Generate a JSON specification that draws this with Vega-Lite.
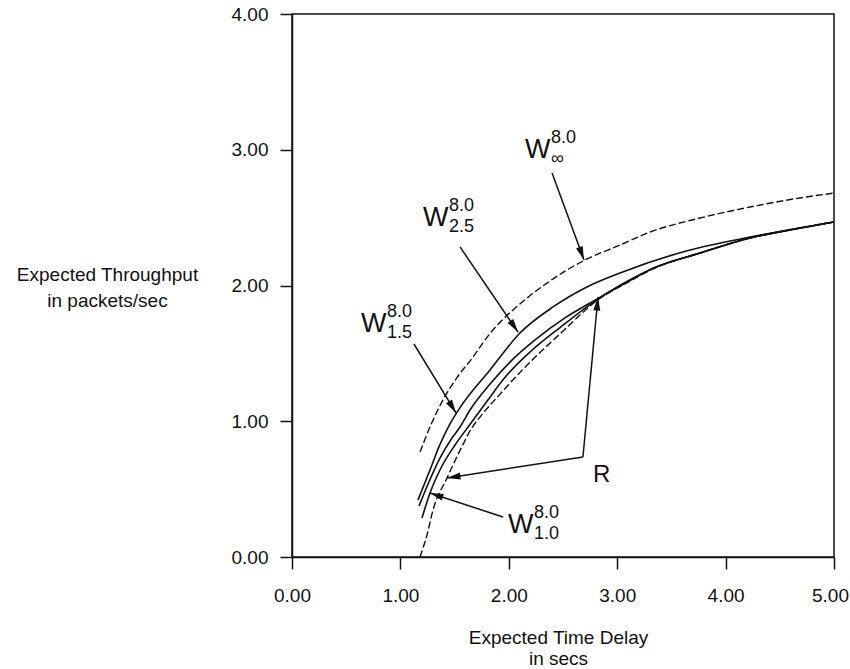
{
  "$schema": "https://vega.github.io/schema/vega-lite/v6.json",
  "width": 542,
  "height": 543,
  "autosize": {"type": "none"},
  "padding": {"left": 292, "top": 14, "right": 16, "bottom": 112},
  "background": "white",
  "config": {
    "view": {"stroke": "#111", "strokeWidth": 1.5},
    "font": "Liberation Sans"
  },
  "datasets": {
    "curves": [
      {"series": "Winf", "x": 1.181, "y": 0.773},
      {"series": "Winf", "x": 1.273, "y": 0.958},
      {"series": "Winf", "x": 1.393, "y": 1.157},
      {"series": "Winf", "x": 1.52, "y": 1.32},
      {"series": "Winf", "x": 1.67, "y": 1.473},
      {"series": "Winf", "x": 1.8, "y": 1.62},
      {"series": "Winf", "x": 1.919, "y": 1.73},
      {"series": "Winf", "x": 2.039, "y": 1.82},
      {"series": "Winf", "x": 2.352, "y": 2.018},
      {"series": "Winf", "x": 2.703, "y": 2.188},
      {"series": "Winf", "x": 3.026, "y": 2.298},
      {"series": "Winf", "x": 3.303, "y": 2.394},
      {"series": "Winf", "x": 3.764, "y": 2.497},
      {"series": "Winf", "x": 4.225, "y": 2.578},
      {"series": "Winf", "x": 4.686, "y": 2.645},
      {"series": "Winf", "x": 5.0, "y": 2.681},

      {"series": "W2.5", "x": 1.162, "y": 0.42},
      {"series": "W2.5", "x": 1.273, "y": 0.641},
      {"series": "W2.5", "x": 1.36, "y": 0.82},
      {"series": "W2.5", "x": 1.45, "y": 0.97},
      {"series": "W2.5", "x": 1.55, "y": 1.1},
      {"series": "W2.5", "x": 1.827, "y": 1.378},
      {"series": "W2.5", "x": 2.103, "y": 1.65},
      {"series": "W2.5", "x": 2.408, "y": 1.842},
      {"series": "W2.5", "x": 2.721, "y": 1.989},
      {"series": "W2.5", "x": 3.026, "y": 2.092},
      {"series": "W2.5", "x": 3.672, "y": 2.262},
      {"series": "W2.5", "x": 4.225, "y": 2.357},
      {"series": "W2.5", "x": 5.0, "y": 2.468},

      {"series": "W1.5", "x": 1.172, "y": 0.376},
      {"series": "W1.5", "x": 1.255, "y": 0.538},
      {"series": "W1.5", "x": 1.365, "y": 0.729},
      {"series": "W1.5", "x": 1.476, "y": 0.877},
      {"series": "W1.5", "x": 1.55, "y": 0.958},
      {"series": "W1.5", "x": 1.642, "y": 1.083},
      {"series": "W1.5", "x": 1.827, "y": 1.274},
      {"series": "W1.5", "x": 2.011, "y": 1.436},
      {"series": "W1.5", "x": 2.242, "y": 1.599},
      {"series": "W1.5", "x": 2.518, "y": 1.761},
      {"series": "W1.5", "x": 2.823, "y": 1.905},
      {"series": "W1.5", "x": 3.09, "y": 2.03},
      {"series": "W1.5", "x": 3.33, "y": 2.125},
      {"series": "W1.5", "x": 3.764, "y": 2.239},
      {"series": "W1.5", "x": 4.225, "y": 2.35},
      {"series": "W1.5", "x": 4.594, "y": 2.409},
      {"series": "W1.5", "x": 5.0, "y": 2.468},

      {"series": "W1.0", "x": 1.199, "y": 0.287},
      {"series": "W1.0", "x": 1.273, "y": 0.471},
      {"series": "W1.0", "x": 1.365, "y": 0.641},
      {"series": "W1.0", "x": 1.504, "y": 0.825},
      {"series": "W1.0", "x": 1.624, "y": 0.958},
      {"series": "W1.0", "x": 1.78, "y": 1.127},
      {"series": "W1.0", "x": 1.983, "y": 1.34},
      {"series": "W1.0", "x": 2.196, "y": 1.51},
      {"series": "W1.0", "x": 2.472, "y": 1.69},
      {"series": "W1.0", "x": 2.823, "y": 1.9},
      {"series": "W1.0", "x": 3.09, "y": 2.024},
      {"series": "W1.0", "x": 3.33, "y": 2.127},
      {"series": "W1.0", "x": 3.764, "y": 2.239},
      {"series": "W1.0", "x": 4.225, "y": 2.35},
      {"series": "W1.0", "x": 4.594, "y": 2.409},
      {"series": "W1.0", "x": 5.0, "y": 2.468},

      {"series": "R", "x": 1.181, "y": 0.0},
      {"series": "R", "x": 1.245, "y": 0.162},
      {"series": "R", "x": 1.301, "y": 0.346},
      {"series": "R", "x": 1.43, "y": 0.582},
      {"series": "R", "x": 1.578, "y": 0.83},
      {"series": "R", "x": 1.65, "y": 0.94},
      {"series": "R", "x": 1.734, "y": 1.03},
      {"series": "R", "x": 1.919, "y": 1.2},
      {"series": "R", "x": 2.196, "y": 1.436},
      {"series": "R", "x": 2.472, "y": 1.643},
      {"series": "R", "x": 2.823, "y": 1.895},
      {"series": "R", "x": 3.09, "y": 2.02},
      {"series": "R", "x": 3.33, "y": 2.122},
      {"series": "R", "x": 3.764, "y": 2.239},
      {"series": "R", "x": 4.225, "y": 2.35},
      {"series": "R", "x": 4.594, "y": 2.409},
      {"series": "R", "x": 5.0, "y": 2.468}
    ],
    "arrows": [
      {"name": "Winf", "x": 2.399, "y": 2.829, "x2": 2.694, "y2": 2.188},
      {"name": "W2.5", "x": 1.55, "y": 2.284, "x2": 2.085, "y2": 1.657},
      {"name": "W1.5", "x": 1.125, "y": 1.569, "x2": 1.513, "y2": 1.061},
      {"name": "W1.0", "x": 1.946, "y": 0.295, "x2": 1.273, "y2": 0.471},
      {"name": "R-left", "x": 2.684, "y": 0.737, "x2": 1.43, "y2": 0.582},
      {"name": "R-up", "x": 2.684, "y": 0.737, "x2": 2.823, "y2": 1.915}
    ],
    "labels": [
      {"x": 2.149, "y": 2.939, "sup": "8.0", "sub": "∞"},
      {"x": 1.208, "y": 2.438, "sup": "8.0", "sub": "2.5"},
      {"x": 0.637, "y": 1.657, "sup": "8.0", "sub": "1.5"},
      {"x": 1.993, "y": 0.177, "sup": "8.0", "sub": "1.0"}
    ]
  },
  "layer": [
    {
      "data": {"name": "curves"},
      "transform": [{"filter": "datum.series != 'Winf' && datum.series != 'R'"}],
      "mark": {"type": "line", "stroke": "#111", "strokeWidth": 1.6, "interpolate": "monotone", "clip": true},
      "encoding": {
        "x": {
          "field": "x", "type": "quantitative",
          "scale": {"domain": [0, 5], "nice": false},
          "axis": {
            "values": [0, 1, 2, 3, 4, 5], "format": ".2f",
            "title": ["Expected Time Delay", "in secs"],
            "grid": false,
            "domainColor": "#111", "domainWidth": 1.5,
            "tickColor": "#111", "tickWidth": 1.5, "tickSize": 12,
            "labelFontSize": 19, "labelColor": "#111", "labelPadding": 17,
            "labelFlush": false, "labelOverlap": false,
            "labelOffset": {"condition": {"test": "datum.value == 5", "value": -4}, "value": 0},
            "titleFontSize": 19, "titleFontWeight": "normal", "titleColor": "#111",
            "titleLineHeight": 21, "titleX": 266, "titleY": 86,
            "titleAlign": "center", "titleBaseline": "alphabetic"
          }
        },
        "y": {
          "field": "y", "type": "quantitative",
          "scale": {"domain": [0, 4], "nice": false},
          "axis": {
            "values": [0, 1, 2, 3, 4], "format": ".2f",
            "title": ["Expected Throughput", "in packets/sec"],
            "grid": false,
            "domainColor": "#111", "domainWidth": 1.5,
            "tickColor": "#111", "tickWidth": 1.5, "tickSize": 12,
            "labelFontSize": 19, "labelColor": "#111", "labelPadding": 12,
            "labelFlush": false, "labelOverlap": false,
            "titleFontSize": 19, "titleFontWeight": "normal", "titleColor": "#111",
            "titleAngle": 0, "titleLineHeight": 26,
            "titleX": -185, "titleY": 266,
            "titleAlign": "center", "titleBaseline": "alphabetic"
          }
        },
        "detail": {"field": "series"}
      }
    },
    {
      "data": {"name": "curves"},
      "transform": [{"filter": "datum.series == 'Winf' || datum.series == 'R'"}],
      "mark": {"type": "line", "stroke": "#111", "strokeWidth": 1.4, "strokeDash": [7, 3], "interpolate": "monotone", "clip": true},
      "encoding": {
        "x": {"field": "x", "type": "quantitative"},
        "y": {"field": "y", "type": "quantitative"},
        "detail": {"field": "series"}
      }
    },
    {
      "data": {"name": "arrows"},
      "mark": {"type": "rule", "stroke": "#111", "strokeWidth": 1.5},
      "encoding": {
        "x": {"field": "x", "type": "quantitative"},
        "y": {"field": "y", "type": "quantitative"},
        "x2": {"field": "x2"},
        "y2": {"field": "y2"}
      }
    },
    {
      "data": {"name": "arrows"},
      "transform": [
        {"calculate": "atan2((datum.x2 - datum.x) * 108.4, (datum.y2 - datum.y) * 135.75) * 180 / PI", "as": "angle"}
      ],
      "mark": {"type": "point", "shape": "M0,0L-0.7,2.7L0.7,2.7Z", "filled": true, "size": 100, "color": "#111", "opacity": 1, "strokeWidth": 0},
      "encoding": {
        "x": {"field": "x2", "type": "quantitative"},
        "y": {"field": "y2", "type": "quantitative"},
        "angle": {"field": "angle", "type": "quantitative", "scale": null}
      }
    },
    {
      "data": {"name": "labels"},
      "mark": {"type": "text", "text": "W", "fontSize": 27, "align": "left", "baseline": "alphabetic", "color": "#111"},
      "encoding": {
        "x": {"field": "x", "type": "quantitative"},
        "y": {"field": "y", "type": "quantitative"}
      }
    },
    {
      "data": {"name": "labels"},
      "mark": {"type": "text", "fontSize": 18, "align": "left", "baseline": "alphabetic", "dx": 26, "dy": -15, "color": "#111"},
      "encoding": {
        "x": {"field": "x", "type": "quantitative"},
        "y": {"field": "y", "type": "quantitative"},
        "text": {"field": "sup"}
      }
    },
    {
      "data": {"name": "labels"},
      "mark": {"type": "text", "fontSize": 18, "align": "left", "baseline": "alphabetic", "dx": 26, "dy": 6, "color": "#111"},
      "encoding": {
        "x": {"field": "x", "type": "quantitative"},
        "y": {"field": "y", "type": "quantitative"},
        "text": {"field": "sub"}
      }
    },
    {
      "data": {"values": [{"label": "R", "x": 2.777, "y": 0.552}]},
      "mark": {"type": "text", "fontSize": 24, "align": "left", "baseline": "alphabetic", "color": "#111"},
      "encoding": {
        "x": {"field": "x", "type": "quantitative"},
        "y": {"field": "y", "type": "quantitative"},
        "text": {"field": "label"}
      }
    }
  ]
}
